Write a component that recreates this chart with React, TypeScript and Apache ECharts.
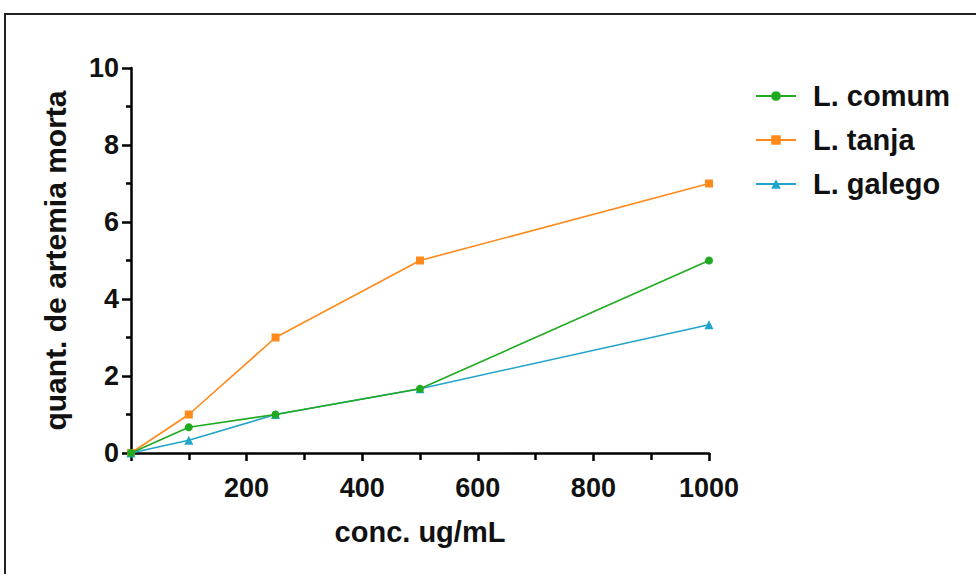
import React, { useEffect, useRef } from "react";
import * as echarts from "echarts";

const concentrations = [0, 100, 250, 500, 1000];
const comum = [0, 0.67, 1, 1.67, 5];
const tanja = [0, 1, 3, 5, 7];
const galego = [0, 0.33, 1, 1.67, 3.33];
const seriesNames = ["L. comum", "L. tanja", "L. galego"];
const colors = ["#1faa1f", "#ff8a1c", "#22a4c8"];

const FONT = "'Liberation Sans', Arial, sans-serif";

export default function App() {
  const ref = useRef<HTMLDivElement>(null);
  useEffect(() => {
    if (!ref.current) return;
    const chart = echarts.init(ref.current, null, { renderer: "svg" });
    const pts = (vals: number[]) => concentrations.map((c, i) => [c, vals[i]]);
    const mk = (name: string, vals: number[], color: string, symbol: string, z: number) => ({
      name,
      type: "line",
      data: pts(vals),
      symbol,
      symbolSize: symbol === "triangle" ? 9 : 8,
      showAllSymbol: true,
      z,
      lineStyle: { color, width: 1.6 },
      itemStyle: { color },
      emphasis: { disabled: true },
    });
    chart.setOption({
      animation: false,
      backgroundColor: "#ffffff",
      graphic: [
        {
          type: "rect",
          shape: { x: 5, y: 14, width: 1000, height: 600 },
          style: { fill: "none", stroke: "#222", lineWidth: 2 },
          z: 0,
        },
      ],
      grid: { left: 131, top: 68, width: 578, height: 385 },
      legend: {
        orient: "vertical",
        left: 750,
        top: 76,
        itemWidth: 40,
        itemHeight: 12,
        itemGap: 14,
        data: seriesNames,
        textStyle: {
          fontFamily: FONT,
          fontWeight: "bold",
          fontSize: 29,
          color: "#111",
          lineHeight: 30,
          padding: [0, 0, 0, 12],
        },
      },
      xAxis: {
        type: "value",
        min: 0,
        max: 1000,
        interval: 200,
        name: "conc. ug/mL",
        nameLocation: "middle",
        nameGap: 64,
        nameTextStyle: { fontFamily: FONT, fontWeight: "bold", fontSize: 29, color: "#111" },
        axisLine: { show: true, lineStyle: { color: "#000", width: 2.5 } },
        axisTick: { show: true, length: 8, lineStyle: { color: "#000", width: 2.5 } },
        minorTick: { show: true, splitNumber: 2, length: 7, lineStyle: { color: "#000", width: 2.5 } },
        splitLine: { show: false },
        axisLabel: {
          fontFamily: FONT,
          fontWeight: "bold",
          fontSize: 27,
          color: "#111",
          margin: 21,
          formatter: (v: number) => (v === 0 ? "" : String(v)),
        },
      },
      yAxis: {
        type: "value",
        min: 0,
        max: 10,
        interval: 2,
        name: "quant. de artemia morta",
        nameLocation: "middle",
        nameRotate: 90,
        nameGap: 61,
        nameTextStyle: { fontFamily: FONT, fontWeight: "bold", fontSize: 30, color: "#111" },
        axisLine: { show: true, lineStyle: { color: "#000", width: 2.5 } },
        axisTick: { show: true, length: 9, lineStyle: { color: "#000", width: 2.5 } },
        minorTick: { show: true, splitNumber: 2, length: 5, lineStyle: { color: "#000", width: 2.5 } },
        splitLine: { show: false },
        axisLabel: {
          fontFamily: FONT,
          fontWeight: "bold",
          fontSize: 27,
          color: "#111",
          margin: 12,
        },
      },
      series: [
        mk("L. tanja", tanja, colors[1], "rect", 2),
        mk("L. galego", galego, colors[2], "triangle", 3),
        mk("L. comum", comum, colors[0], "circle", 4),
      ],
    });
    return () => chart.dispose();
  }, []);
  return (
    <div
      ref={ref}
      style={{ position: "fixed", left: 0, top: 0, width: 976, height: 574, background: "#fff" }}
    />
  );
}
